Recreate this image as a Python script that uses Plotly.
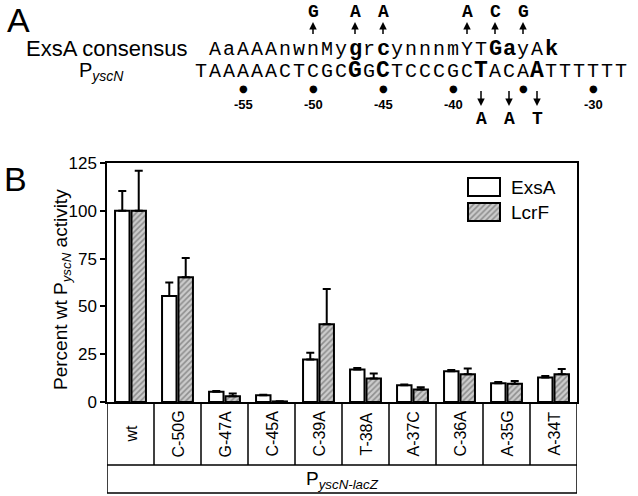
import plotly.graph_objects as go

W, H = 638, 496
L, R, T, B = 107, 61, 163, 94
PW = W - L - R
PH = H - T - B

SANS = "Arial, Liberation Sans, sans-serif"
MONO = "Liberation Mono, Courier New, monospace"

# panel B data
mutants = ["wt", "C-50G", "G-47A", "C-45A", "C-39A", "T-38A", "A-37C", "C-36A", "A-35G", "A-34T"]
exsa = [100, 55.5, 5.3, 3.5, 22.2, 17.0, 8.7, 16.1, 9.8, 12.8]
exsa_err = [10.3, 7.0, 0.5, 0.3, 3.5, 0.8, 0.5, 0.6, 0.6, 0.8]
lcrf = [100, 65.3, 3.0, 0.3, 40.6, 12.3, 6.5, 14.5, 9.6, 14.5]
lcrf_err = [21.0, 10.0, 1.4, 0.1, 18.5, 2.6, 1.2, 3.0, 1.4, 2.7]
y_ticks = [0, 25, 50, 75, 100, 125]

# panel A sequences
consensus = "AaAAAnwnMygrcynnnmYTGayAk"
consensus_start = -57
consensus_bold = [10, 12, 20, 21, 24]
promoter = "TAAAAACTCGCGGCTCCCGCTACAATTTTTT"
promoter_start = -58
promoter_bold = [-47, -45, -38, -34]
up_pos = [-50, -47, -45, -39, -37, -35]
up_base = ["G", "A", "A", "A", "C", "G"]
down_pos = [-38, -36, -34]
down_base = ["A", "A", "T"]
dot_pos = [-55, -50, -45, -40, -35, -30]
num_pos = [-55, -50, -45, -40, -30]


def px(x):
    return (x - L) / PW


def py(y):
    return (H - B - y) / PH


def seq_x(pos):
    return px(313 + (pos + 50) * 14.0)


def note(text, x, y, size, family=SANS, **kw):
    d = dict(text=text, x=x, y=y, xref="paper", yref="paper", xanchor="center",
             yanchor="middle", showarrow=False, font=dict(family=family, size=size, color="black"))
    d.update(kw)
    return d


hatch = dict(shape="/", fgcolor="#505050", bgcolor="#cccccc", size=4, solidity=0.4)

fig = go.Figure()
fig.add_bar(x=mutants, y=exsa, name="ExsA",
            marker=dict(color="white", line=dict(color="black", width=2)),
            error_y=dict(type="data", symmetric=False, array=exsa_err,
                         arrayminus=[0] * len(exsa), color="black", thickness=2, width=4))
fig.add_bar(x=mutants, y=lcrf, name="LcrF",
            marker=dict(color="#cccccc", line=dict(color="black", width=2), pattern=hatch),
            error_y=dict(type="data", symmetric=False, array=lcrf_err,
                         arrayminus=[0] * len(lcrf), color="black", thickness=2, width=4))

# legend swatches drawn as bars on a small inset axis
fig.add_bar(x=[1], y=[1], base=0, offset=-0.36, width=0.72, orientation="h",
            xaxis="x2", yaxis="y2", hoverinfo="skip",
            marker=dict(color="white", line=dict(color="black", width=2)))
fig.add_bar(x=[1], y=[0], base=0, offset=-0.36, width=0.72, orientation="h",
            xaxis="x2", yaxis="y2", hoverinfo="skip",
            marker=dict(color="#cccccc", line=dict(color="black", width=2), pattern=hatch))

ann = [
    note("ExsA", px(509), py(187), 19, xanchor="left"),
    note("LcrF", px(509), py(212), 19, xanchor="left"),
    note("Percent wt P<sub><i>yscN</i></sub> activity", px(62), py(290), 19, textangle=-90),
]

# category labels under the axis
for i, m in enumerate(mutants):
    ann.append(note(m, i, py(434), 16, xref="x", textangle=-90))
ann.append(note("P<sub><i>yscN-lacZ</i></sub>", 4.5, py(480), 19, xref="x"))

# panel letters and row labels
ann.append(note("A", px(18), py(20), 34))
ann.append(note("B", px(15), py(179), 34))
ann.append(note("ExsA consensus", px(189), py(48), 22, xanchor="right"))
ann.append(note("P<sub><i>yscN</i></sub>", px(101), py(71), 20))

# sequences, one character per position
for i, ch in enumerate(consensus):
    bold = i in consensus_bold
    ann.append(note(f"<b>{ch}</b>" if bold else ch, seq_x(consensus_start + i), py(49),
                    22 if bold else 20, MONO))
for i, ch in enumerate(promoter):
    pos = promoter_start + i
    bold = pos in promoter_bold
    ann.append(note(f"<b>{ch}</b>" if bold else ch, seq_x(pos), py(71),
                    23 if bold else 20, MONO))

for pos, b in zip(up_pos, up_base):
    ann.append(note(f"<b>{b}</b>", seq_x(pos), py(12), 18, MONO))
    ann.append(note(" ", seq_x(pos), py(22), 1, showarrow=True, ax=0, ay=14, arrowhead=2,
                    arrowsize=1, arrowwidth=1.5, arrowcolor="black"))
for pos, b in zip(down_pos, down_base):
    ann.append(note(f"<b>{b}</b>", seq_x(pos), py(119), 18, MONO))
    ann.append(note(" ", seq_x(pos), py(106), 1, showarrow=True, ax=0, ay=-17, arrowhead=2,
                    arrowsize=1, arrowwidth=1.5, arrowcolor="black"))
for pos in dot_pos:
    ann.append(note("●", seq_x(pos), py(89), 10, "DejaVu Sans"))
for pos in num_pos:
    ann.append(note(f"<b>{pos}</b>", seq_x(pos), py(104), 13))

# boxes under the x axis
shapes = []
line = dict(color="black", width=1.5)
for i in range(len(mutants) + 1):
    shapes.append(dict(type="line", xref="x", yref="paper", x0=i - 0.5, x1=i - 0.5,
                       y0=0, y1=py(465), line=line))
shapes.append(dict(type="rect", xref="x", yref="paper", x0=-0.5, x1=9.5,
                   y0=py(465), y1=py(493), line=line))

fig.update_layout(
    width=W, height=H,
    margin=dict(l=L, r=R, t=T, b=B),
    plot_bgcolor="white", paper_bgcolor="white",
    barmode="group", bargap=0.3, bargroupgap=0.12,
    showlegend=False,
    annotations=ann, shapes=shapes,
    xaxis=dict(range=[-0.5, 9.5], showticklabels=False, ticks="", showline=True,
               linecolor="black", linewidth=1.5, mirror=True, showgrid=False, automargin=False),
    yaxis=dict(range=[0, 125], tickvals=y_ticks, ticks="outside", ticklen=5, tickwidth=1.5,
               tickcolor="black", showline=True, linecolor="black", linewidth=1.5, mirror=True,
               showgrid=False, zeroline=False, automargin=False,
               tickfont=dict(family=SANS, size=17, color="black")),
    xaxis2=dict(domain=[px(466.4), px(501.6)], range=[-0.05, 1.05], anchor="y2",
                visible=False, fixedrange=True),
    yaxis2=dict(domain=[py(227), py(172)], range=[-0.6, 1.6], anchor="x2",
                visible=False, fixedrange=True),
)

# drop the default page margin so the figure sits at the window's corner
fig.write_html("out.html", config={"displayModeBar": False},
               post_script="document.body.style.margin='0';"
                           "document.body.style.overflow='hidden';")
